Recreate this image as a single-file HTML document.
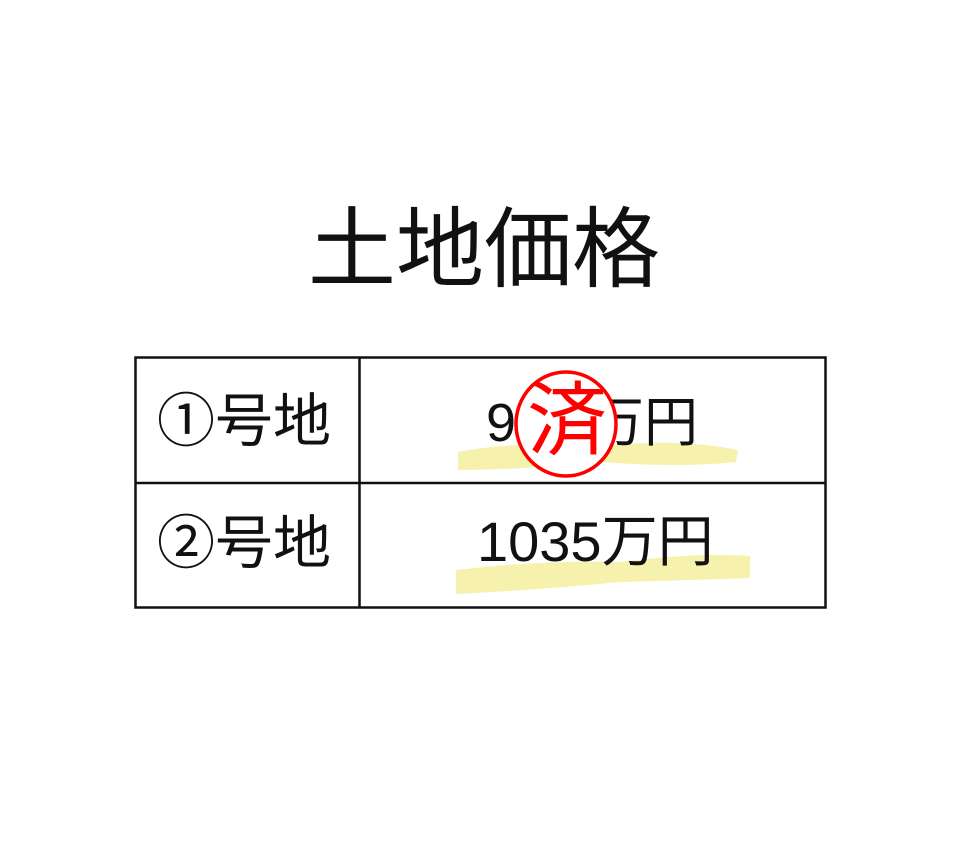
<!DOCTYPE html>
<html><head><meta charset="utf-8"><style>
html,body{margin:0;padding:0;background:#fff;width:961px;height:841px;overflow:hidden;position:relative;font-family:"Liberation Sans","Noto Sans CJK JP",sans-serif;}
.a{position:absolute;white-space:nowrap;line-height:1;color:#111;}
</style></head><body>
<div class="a" style="left:308px;top:206px;font-size:88px;">土地価格</div>
<svg width="961" height="841" style="position:absolute;left:0;top:0">
  <path d="M458 452 Q520 440 600 446 Q680 438 738 450 L736 462 Q680 468 600 462 Q520 470 458 470 Z" fill="#f4f0a0" opacity="0.85"/>
  <path d="M456 570 Q540 560 620 562 Q700 552 750 556 L750 578 Q700 580 620 582 Q540 590 456 594 Z" fill="#f4f0a0" opacity="0.85"/>
  <rect x="135.5" y="357.5" width="690" height="250" fill="none" stroke="#111" stroke-width="2.5"/>
  <line x1="135" y1="483" x2="826" y2="483" stroke="#111" stroke-width="2.5"/>
  <line x1="359.5" y1="357" x2="359.5" y2="608" stroke="#111" stroke-width="2.5"/>
</svg>
<div class="a" style="left:157px;top:393px;font-size:58px;">①号地</div>
<div class="a" style="left:157px;top:515px;font-size:58px;">②号地</div>
<div class="a" style="left:486px;top:396px;font-size:54px;">9</div>
<div class="a" style="left:590px;top:396px;font-size:54px;">万円</div>
<div class="a" style="left:477px;top:514px;font-size:56px;">1035万円</div>
<svg width="961" height="841" style="position:absolute;left:0;top:0">
  <ellipse cx="566" cy="424" rx="50" ry="52" fill="#fff" stroke="#f00" stroke-width="3.5"/>
</svg>
<div class="a" style="left:527px;top:381px;font-size:80px;color:#f00;">済</div>
</body></html>
